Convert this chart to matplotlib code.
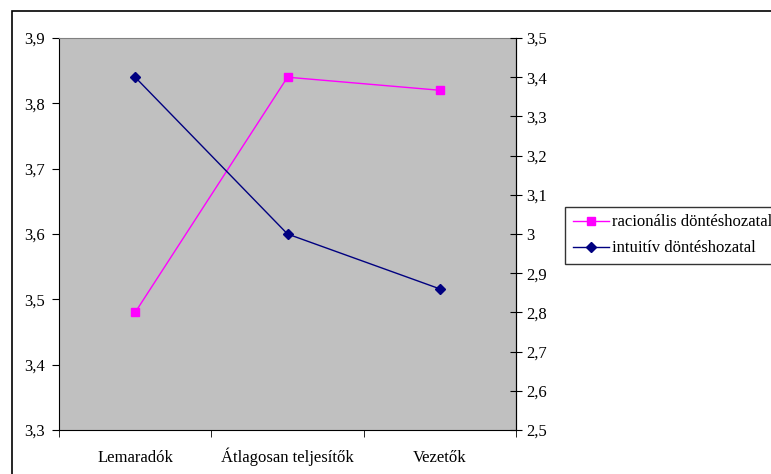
import matplotlib
matplotlib.use("Agg")
import matplotlib.pyplot as plt
from matplotlib.patches import Rectangle
from matplotlib.ticker import FixedLocator, FuncFormatter

plt.rcParams["font.family"] = ["Liberation Serif", "DejaVu Serif"]
plt.rcParams["font.size"] = 12

categories = ["Lemaradók", "Átlagosan teljesítők", "Vezetők"]
racionalis = [3.48, 3.84, 3.82]   # left axis
intuitiv = [3.40, 3.00, 2.86]     # right axis

W, H = 771, 474
fig = plt.figure(figsize=(W / 100, H / 100), dpi=100)

# outer chart frame (runs off the right and bottom edge)
fig.patches.append(Rectangle((12 / W, 1 - 482 / H), 800 / W, 471 / H,
                             transform=fig.transFigure, fill=False,
                             ec="black", lw=1.2, clip_on=False))

ax = fig.add_axes([59 / W, (H - 430) / H, 457 / W, 392 / H])
ax.set_facecolor("#c0c0c0")
x = list(range(len(categories)))

l1, = ax.plot(x, racionalis, color="#ff00ff", lw=1, marker="s", ms=6,
              label="racionális döntéshozatal", zorder=3)
ax.set_xlim(-0.5, 2.5)
ax.set_ylim(3.3, 3.9)
ax.set_yticks([3.3, 3.4, 3.5, 3.6, 3.7, 3.8, 3.9])
ax.yaxis.set_major_formatter(FuncFormatter(lambda v, p: f"{v:.1f}".replace(".", ",")))
ax.set_xticks(x)
ax.set_xticklabels(categories, va="baseline")
ax.xaxis.set_minor_locator(FixedLocator([-0.5, 0.5, 1.5, 2.5]))
ax.tick_params(axis="x", which="major", length=0, pad=23)
ax.tick_params(axis="x", which="minor", length=5, direction="out", color="black")
ax.tick_params(axis="y", length=5, direction="out", color="black", pad=5)
ax.spines["top"].set_color("#808080")
for s in ["left", "bottom", "right"]:
    ax.spines[s].set_color("black")

ax2 = ax.twinx()
l2, = ax2.plot(x, intuitiv, color="#000080", lw=1, marker="D", ms=5,
               label="intuitív döntéshozatal", zorder=3)
ax2.set_ylim(2.5, 3.5)
ax2.set_yticks([2.5, 2.6, 2.7, 2.8, 2.9, 3.0, 3.1, 3.2, 3.3, 3.4, 3.5])
ax2.yaxis.set_major_formatter(FuncFormatter(
    lambda v, p: ("3" if abs(v - 3) < 1e-9 else f"{v:.1f}".replace(".", ","))))
ax2.tick_params(axis="y", length=9, direction="inout", color="black", pad=3)
ax2.spines["right"].set_color("black")
ax2.spines["top"].set_visible(False)
ax2.spines["left"].set_visible(False)
ax2.spines["bottom"].set_visible(False)

leg = fig.legend(handles=[l1, l2], loc="upper left",
                 bbox_to_anchor=(565 / W, 1 - 207 / H),
                 bbox_transform=fig.transFigure,
                 frameon=True, fancybox=False, edgecolor="black",
                 handlelength=2.2, handletextpad=0.2, labelspacing=0.6,
                 borderpad=0.45, borderaxespad=0, fontsize=12)
leg.get_frame().set_linewidth(1)

fig.savefig("out.png", dpi=100)
